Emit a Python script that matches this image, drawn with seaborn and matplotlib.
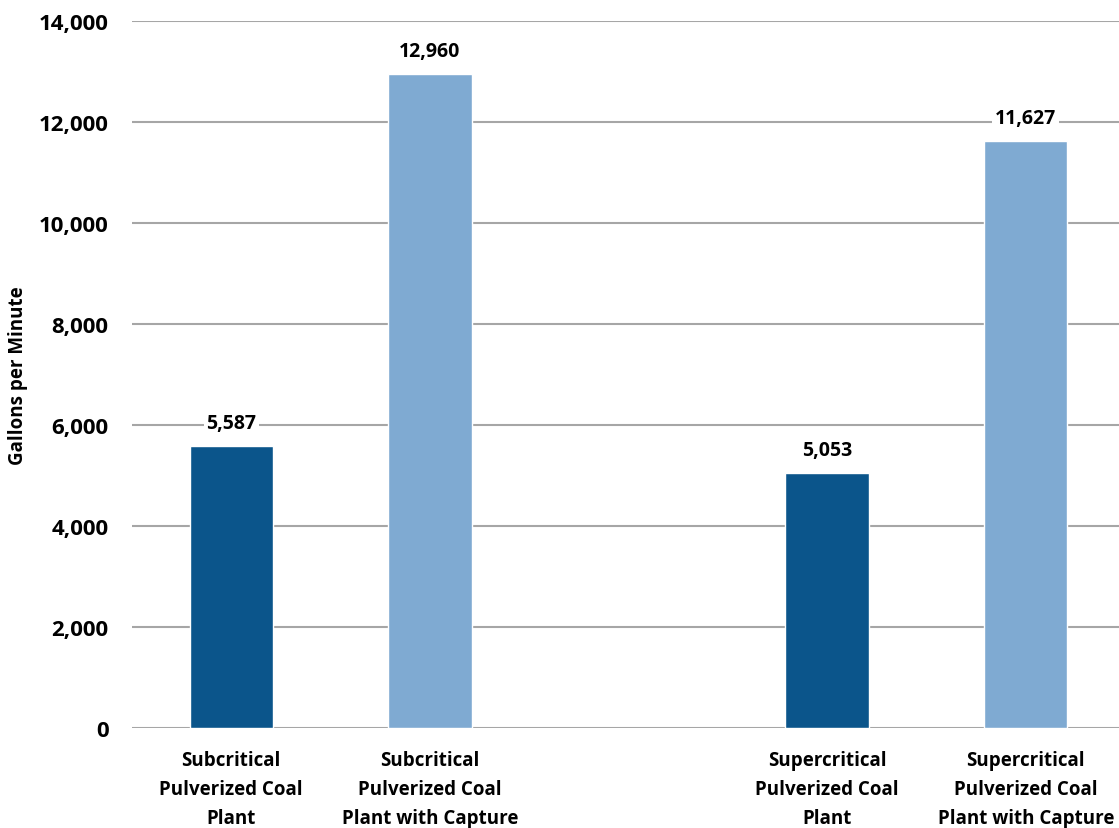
import matplotlib
matplotlib.use("Agg")
import matplotlib.pyplot as plt
import seaborn as sns
import pandas as pd

categories = ["Subcritical\nPulverized Coal\nPlant",
              "Subcritical\nPulverized Coal\nPlant with Capture",
              "Supercritical\nPulverized Coal\nPlant",
              "Supercritical\nPulverized Coal\nPlant with Capture"]
values = [5587, 12960, 5053, 11627]
colors = ["#0B558B", "#7FAAD2", "#0B558B", "#7FAAD2"]
yticks = [0, 2000, 4000, 6000, 8000, 10000, 12000, 14000]

# blank slot between the two plant types
order = categories[:2] + [" "] + categories[2:]

df = pd.DataFrame({"plant": categories, "gpm": values})

sns.set_style("white")
plt.rcParams["font.family"] = ["Open Sans", "DejaVu Sans"]
plt.rcParams["text.color"] = "black"
plt.rcParams["xtick.color"] = "black"
plt.rcParams["ytick.color"] = "black"
plt.rcParams["axes.labelcolor"] = "black"

fig = plt.figure(figsize=(11.19, 8.29), dpi=100)
ax = fig.add_axes([132 / 1119, 100 / 829, (1125 - 132) / 1119, (729 - 22) / 829])

sns.barplot(data=df, x="plant", y="gpm", hue="plant", order=order,
            palette=dict(zip(categories, colors)), legend=False,
            width=0.42, saturation=1, ax=ax, zorder=3)

ax.set_ylim(0, 14000)
ax.set_yticks(yticks)
ax.set_yticklabels([f"{v:,}" for v in yticks], fontsize=16, fontweight="bold")
ax.yaxis.grid(True, color="#A6A6A6", linewidth=1.5, zorder=0)
ax.set_axisbelow(True)
ax.tick_params(axis="both", length=0)
ax.tick_params(axis="y", pad=17)
ax.tick_params(axis="x", pad=16)
for lbl in ax.get_xticklabels():
    lbl.set_fontsize(13.5)
    lbl.set_fontweight("bold")
    lbl.set_linespacing(1.58)
sns.despine(ax=ax, left=True, bottom=True)

for c in ax.containers:
    labels = [f"{v:,.0f}" if v == v else "" for v in c.datavalues]
    anns = ax.bar_label(c, labels=labels, padding=9, fontsize=14, fontweight="bold")
    for a in anns:
        a.set_bbox(dict(facecolor="white", edgecolor="none", pad=2))

ax.set_xlabel("")
ax.set_ylabel("Gallons per Minute", fontsize=13.5, fontweight="bold")
ax.yaxis.set_label_coords(-104 / (1125 - 132), 0.5)

fig.savefig("out.png", dpi=100)
